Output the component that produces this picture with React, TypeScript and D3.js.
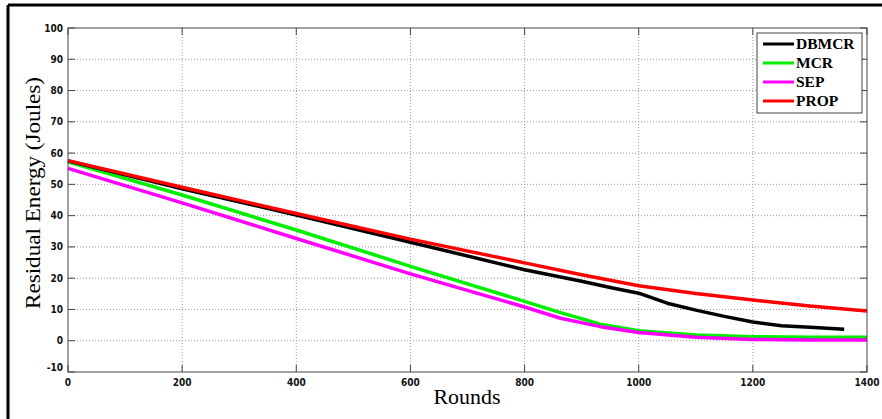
import React from 'react';
import * as d3 from 'd3';

// residual energy per round
const propRounds = [0, 200, 400, 600, 800, 900, 1000, 1100, 1200, 1300, 1400];
const propValues = [57.6, 49.1, 40.7, 32.5, 24.9, 21.1, 17.6, 15.1, 13.0, 11.1, 9.5];

const dbmcrRounds = [0, 200, 400, 600, 800, 900, 950, 1000, 1050, 1100, 1150, 1200, 1250, 1300, 1360];
const dbmcrValues = [57.5, 48.6, 40.2, 31.5, 22.7, 19.0, 17.0, 15.2, 12.0, 9.8, 7.8, 6.0, 4.8, 4.3, 3.7];

const mcrRounds = [0, 200, 400, 600, 800, 863, 933, 1000, 1100, 1200, 1300, 1400];
const mcrValues = [57.2, 46.6, 35.4, 23.8, 12.6, 9.0, 5.3, 3.2, 1.8, 1.3, 1.1, 1.1];

const sepRounds = [0, 200, 400, 600, 800, 863, 933, 1000, 1100, 1200, 1300, 1400];
const sepValues = [55.1, 44.1, 32.7, 21.4, 10.8, 7.2, 4.5, 2.6, 1.1, 0.4, 0.2, 0.2];

const seriesNames = ['DBMCR', 'MCR', 'SEP', 'PROP'];
const seriesColors = ['#000000', '#00ee00', '#ff00ff', '#ff0000'];

const xTicks = [0, 200, 400, 600, 800, 1000, 1200, 1400];
const yTicks = [-10, 0, 10, 20, 30, 40, 50, 60, 70, 80, 90, 100];

const W = 882;
const H = 419;
const left = 68, right = 867, top = 28, bottom = 372;

const tickFont = '"Liberation Sans Narrow", "DejaVu Sans Condensed", "Arial Narrow", sans-serif';
const serif = '"Liberation Serif", "DejaVu Serif", serif';

export default function App() {
  const x = d3.scaleLinear().domain([0, 1400]).range([left, right]);
  const y = d3.scaleLinear().domain([-10, 100]).range([bottom, top]);

  const line = d3.line<[number, number]>()
    .x(d => x(d[0]))
    .y(d => y(d[1]));

  const zip = (r: number[], v: number[]) => r.map((d, i) => [d, v[i]] as [number, number]);
  // draw order: MCR, SEP, DBMCR, PROP (red on top as in figure)
  const series = [
    { name: 'MCR', data: zip(mcrRounds, mcrValues), color: seriesColors[1] },
    { name: 'SEP', data: zip(sepRounds, sepValues), color: seriesColors[2] },
    { name: 'DBMCR', data: zip(dbmcrRounds, dbmcrValues), color: seriesColors[0] },
    { name: 'PROP', data: zip(propRounds, propValues), color: seriesColors[3] },
  ];

  const lx = 757, ly = 33, lw = 105, lh = 80;

  return (
    <svg width={W} height={H} style={{ position: 'absolute', left: 0, top: 0, background: '#fff' }}>
      {/* outer frame (left and top edges only visible) */}
      <line x1={8} y1={5} x2={8} y2={H} stroke="#000" strokeWidth={3} />
      <line x1={8} y1={5} x2={W} y2={5} stroke="#000" strokeWidth={3} />

      {/* grid */}
      {xTicks.slice(1, -1).map(t => (
        <line key={'gx' + t} x1={x(t)} x2={x(t)} y1={top} y2={bottom}
          stroke="#999" strokeWidth={1} strokeDasharray="1,2" />
      ))}
      {yTicks.slice(1, -1).map(t => (
        <line key={'gy' + t} x1={left} x2={right} y1={y(t)} y2={y(t)}
          stroke="#999" strokeWidth={1} strokeDasharray="1,2" />
      ))}

      {/* ticks inside on all sides */}
      {xTicks.map(t => (
        <g key={'tx' + t}>
          <line x1={x(t)} x2={x(t)} y1={bottom} y2={bottom - 7} stroke="#444" />
          <line x1={x(t)} x2={x(t)} y1={top} y2={top + 7} stroke="#444" />
          <text x={x(t)} y={bottom + 14} textAnchor="middle" fontFamily={tickFont}
            fontWeight="bold" fontSize={10} fill="#111">{t}</text>
        </g>
      ))}
      {yTicks.map(t => (
        <g key={'ty' + t}>
          <line x1={left} x2={left + 7} y1={y(t)} y2={y(t)} stroke="#444" />
          <line x1={right} x2={right - 7} y1={y(t)} y2={y(t)} stroke="#444" />
          <text x={left - 5} y={y(t) + (t === -10 ? -1 : 3.5)} textAnchor="end" fontFamily={tickFont}
            fontWeight="bold" fontSize={10} fill="#111">{t}</text>
        </g>
      ))}

      {/* data lines */}
      {series.map(s => (
        <path key={s.name} d={line(s.data) || ''} fill="none" stroke={s.color}
          strokeWidth={3.5} strokeLinejoin="round" />
      ))}

      {/* axes box */}
      <rect x={left} y={top} width={right - left} height={bottom - top} fill="none" stroke="#444" strokeWidth={1} />

      {/* legend */}
      <rect x={lx} y={ly} width={lw} height={lh} fill="#fff" stroke="#444" strokeWidth={1} />
      {seriesNames.map((n, i) => (
        <g key={'lg' + n}>
          <line x1={lx + 6} x2={lx + 37} y1={ly + 11 + i * 19} y2={ly + 11 + i * 19}
            stroke={seriesColors[i]} strokeWidth={3} />
          <text x={lx + 39} y={ly + 16 + i * 19} fontFamily={serif} fontWeight="bold"
            fontSize={15.5} fill="#000">{n}</text>
        </g>
      ))}

      {/* axis titles */}
      <text x={467} y={404} textAnchor="middle" fontFamily={serif} fontSize={20}
        textLength={67} lengthAdjust="spacingAndGlyphs" fill="#000">Rounds</text>
      <text transform={`translate(40,193) rotate(-90)`} textAnchor="middle"
        fontFamily={serif} fontSize={20} textLength={232} lengthAdjust="spacingAndGlyphs"
        fill="#000">Residual Energy (Joules)</text>
    </svg>
  );
}
